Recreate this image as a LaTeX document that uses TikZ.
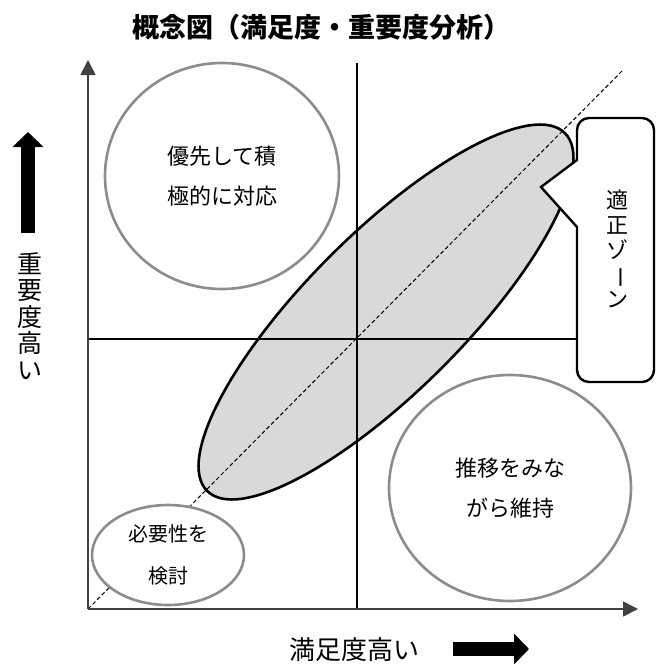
\documentclass[tikz,border=0pt]{standalone}
\usepackage{fontspec}
\setmainfont{Noto Sans CJK JP}
\usetikzlibrary{arrows.meta,shapes.geometric}
\colorlet{ringgray}{black!45}
\colorlet{zonegray}{black!15}
\tikzset{
  axis/.style = {draw=black!75, line width=1.6pt, -{Triangle[length=15pt,width=15pt]}},
  quadrant/.style = {line width=1.2pt},
  ring/.style = {ellipse, draw=ringgray, line width=2.6pt, fill=white,
    align=center, inner sep=0pt},
  fatarrow/.style = {line width=14pt, -{Triangle[length=15pt,width=30pt]}},
  callout/.style = {draw, fill=white, line width=2.4pt, line join=miter}
}

\begin{document}
\begin{tikzpicture}[x=1pt,y=-1pt]
  \useasboundingbox (0,0) rectangle (656,664);
  % title
  \node[font=\bfseries\fontsize{27}{30}\selectfont] (title) at (321,27) {概念図（満足度・重要度分析）};
  % fit zone
  \node[ellipse, draw, fill=zonegray, line width=2.6pt, rotate=45,
    minimum width=506pt, minimum height=158pt] (fitzone) at (386,312) {};
  % quadrants
  \coordinate (o) at (88,609);
  \coordinate (ytop) at (88,60);
  \coordinate (xend) at (638,609);
  \coordinate (vtop) at (357,63);
  \coordinate (vbot) at (357,609);
  \coordinate (hleft) at (88,339);
  \coordinate (hright) at (620,339);
  \coordinate (diagend) at (622,71);
  \draw[quadrant] (vtop) -- (vbot);
  \draw[quadrant] (hleft) -- (hright);
  \draw[line width=1pt, dash pattern=on 4pt off 2.5pt] (o) -- (diagend);
  % zones
  \node[ring, minimum width=234pt, minimum height=226pt, font=\fontsize{22}{40}\selectfont]
    (prio) at (222,176) {優先して積\\極的に対応};
  \node[ring, minimum width=152pt, minimum height=100pt, font=\fontsize{20}{42}\selectfont]
    (check) at (168,555) {必要性を\\検討};
  \node[ring, minimum width=242pt, minimum height=226pt, font=\fontsize{22}{40}\selectfont]
    (keep) at (510,488) {推移をみな\\がら維持};
  % axes
  \draw[axis] (o) -- (ytop);
  \draw[axis] (o) -- (xend);
  % callout
  \draw[callout] (541,187) -- (577,227) [rounded corners=12pt] -- (577,382) -- (654,382)
    -- (654,118) -- (577,118) [sharp corners] -- (577,160) -- cycle;
  \node[align=center, font=\fontsize{22}{24.6}\selectfont] (fitlabel) at (617,249)
    {適\\正\\ゾ\\\rotatebox[origin=c]{-90}{ー}\\ン};
  % axis labels
  \node[align=center, font=\fontsize{25}{26.6}\selectfont] (ylabel) at (30,316)
    {重\\要\\度\\高\\い};
  \node[font=\fontsize{26}{30}\selectfont] (xlabel) at (354,650) {満足度高い};
  \coordinate (yarrowbot) at (28,233);
  \coordinate (yarrowtip) at (28,132);
  \coordinate (xarrowbot) at (453,649);
  \coordinate (xarrowtip) at (529,649);
  \draw[fatarrow] (yarrowbot) -- (yarrowtip);
  \draw[fatarrow] (xarrowbot) -- (xarrowtip);
\end{tikzpicture}
\end{document}
